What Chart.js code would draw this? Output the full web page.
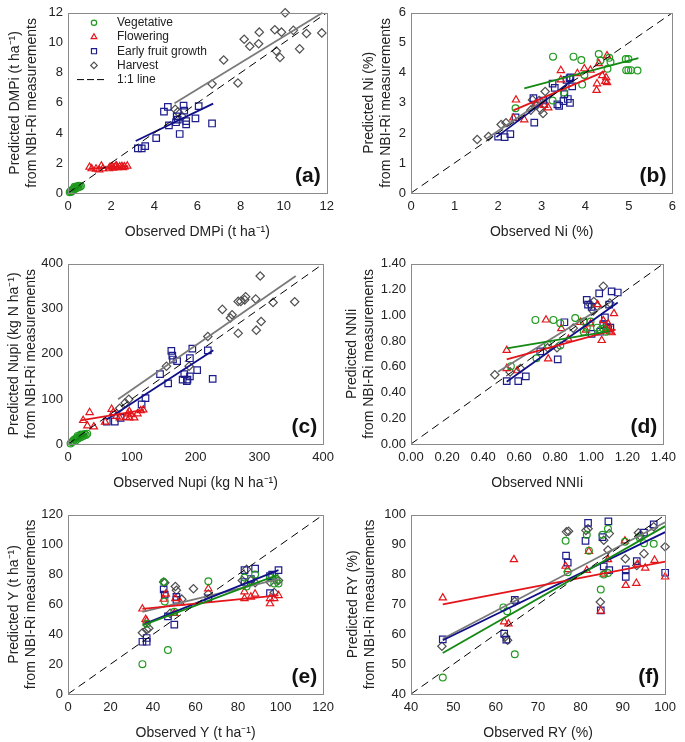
<!DOCTYPE html>
<html>
<head>
<meta charset="utf-8">
<script src="https://cdn.jsdelivr.net/npm/chart.js@4.4.1/dist/chart.umd.min.js"></script>
<style>
  body { margin: 0; background: #fff; width: 685px; height: 742px; overflow: hidden; position: relative; }
  canvas { position: absolute; }
</style>
</head>
<body>
<canvas id="pa" width="340" height="243" style="left:0px;top:0px"></canvas>
<canvas id="pb" width="339" height="243" style="left:343px;top:0px"></canvas>
<canvas id="pc" width="340" height="243" style="left:0px;top:251px"></canvas>
<canvas id="pd" width="339" height="243" style="left:343px;top:251px"></canvas>
<canvas id="pe" width="340" height="242" style="left:0px;top:502px"></canvas>
<canvas id="pf" width="339" height="242" style="left:343px;top:502px"></canvas>
<script>
// growth stages (legend order)
var stages = ['Vegetative', 'Flowering', 'Early fruit growth', 'Harvest'];

// axis ranges, one entry per panel (a..f)
var axMin = [0, 0, 0, 0, 0, 40];
var axMax = [12, 6, 400, 1.4, 120, 100];
var axStep = [2, 1, 100, 0.2, 20, 10];
var tickDecimals = [0, 0, 0, 2, 0, 0];
var panelLabels = ['(a)', '(b)', '(c)', '(d)', '(e)', '(f)'];
var xTitles = ['Observed DMPi (t ha\u207B\u00B9)', 'Observed Ni (%)', 'Observed Nupi (kg N ha\u207B\u00B9)',
               'Observed NNIi', 'Observed Y (t ha\u207B\u00B9)', 'Observed RY (%)'];
var yTitles = ['Predicted DMPi (t ha\u207B\u00B9)', 'Predicted Ni (%)', 'Predicted Nupi (kg N ha\u207B\u00B9)',
               'Predicted NNIi', 'Predicted Y (t ha\u207B\u00B9)', 'Predicted RY (%)'];

// (a) DMPi  [observed, predicted]
var vegA = [[0.08,0.05],[0.12,0.12],[0.16,0.08],[0.2,0.22],[0.24,0.18],[0.28,0.3],[0.32,0.26],[0.35,0.38],[0.4,0.33],[0.43,0.45],[0.47,0.38],[0.5,0.48],[0.55,0.42],[0.6,0.46],[0.3,0.42]];
var floA = [[1.0,1.72],[1.1,1.62],[1.3,1.6],[1.45,1.55],[1.55,1.8],[1.62,1.62],[1.9,1.62],[1.95,1.72],[2.05,1.76],[2.1,1.66],[2.2,1.77],[2.3,1.7],[2.4,1.75],[2.5,1.77],[2.55,1.7],[2.62,1.75],[2.75,1.8],[2.25,1.8]];
var efgA = [[3.24,2.97],[3.42,2.97],[3.58,3.12],[4.09,3.65],[4.45,5.42],[4.63,5.73],[4.68,4.5],[5.01,4.71],[5.09,4.88],[5.18,3.93],[5.36,5.82],[5.39,5.48],[5.48,4.78],[5.48,4.57],[5.91,4.97],[6.06,5.78],[6.68,4.63],[5.04,5.1]];
var harA = [[4.97,5.57],[5.09,5.4],[5.29,5.1],[6.68,7.26],[7.22,8.86],[7.88,7.33],[8.17,10.24],[8.43,9.77],[8.84,9.94],[8.87,10.71],[9.59,10.87],[9.66,9.45],[9.83,9.03],[9.9,10.71],[10.07,12.0],[10.45,10.83],[10.74,9.6],[11.06,10.62],[11.77,10.66]];
// fitted lines per stage: [x1, y1, x2, y2]
var fitA = [[0.1,0.08,0.6,0.48],[1.0,1.62,2.8,1.78],[3.14,3.46,6.73,5.95],[4.94,5.97,11.8,12.0]];

// (b) Ni
var vegB = [[2.4,2.82],[3.25,3.08],[3.51,3.35],[3.26,4.54],[3.73,4.54],[3.91,4.43],[3.93,3.61],[3.98,3.93],[4.31,4.63],[4.35,4.41],[4.55,4.5],[4.58,4.36],[4.51,4.14],[4.93,4.46],[4.99,4.46],[4.94,4.09],[4.99,4.09],[5.05,4.09],[5.2,4.08]];
var floB = [[2.41,3.1],[2.35,2.5],[2.6,2.44],[3.15,2.84],[3.44,4.08],[3.44,3.77],[3.82,3.98],[3.98,4.14],[4.12,4.09],[4.27,3.64],[4.26,3.42],[4.31,4.31],[4.39,3.91],[4.46,3.72],[4.48,3.84],[4.5,3.68],[4.5,4.57],[2.89,2.97],[3.06,2.92]];
var efgB = [[2.0,1.88],[2.15,1.86],[2.28,1.96],[2.4,2.52],[2.83,2.34],[2.81,3.16],[3.25,3.64],[3.3,3.5],[3.36,2.95],[3.4,2.9],[3.5,3.06],[3.52,3.29],[3.57,3.77],[3.64,3.82],[3.6,3.13],[3.65,3.0],[3.7,3.55],[3.66,3.85],[3.04,3.08]];
var harB = [[1.52,1.78],[1.78,1.88],[2.07,2.28],[2.18,2.34],[2.79,3.1],[2.87,2.92],[2.94,3.08],[3.06,2.97],[3.03,2.65],[3.08,3.38],[2.75,2.76],[2.98,2.78]];
var fitB = [[2.6,3.48,5.22,4.49],[2.35,2.75,4.45,4.05],[1.96,1.86,3.74,3.8],[1.75,1.82,3.1,3.15]];

// (c) Nupi
var vegC = [[4,1],[6,4],[8,7],[10,10],[12,8],[14,14],[16,12],[18,17],[20,15],[22,20],[24,18],[26,22],[28,20],[30,23],[15,18],[20,21]];
var floC = [[23.8,52.4],[33.9,70],[30.4,40.4],[40.5,38.2],[58.2,48.8],[68.4,77.2],[70.9,70],[76,61.6],[81,58],[91.1,59.5],[93.7,67.3],[96.2,72.2],[98.7,65.1],[103.8,58],[108.9,67.3],[113.9,74.3],[118,75.8],[96.2,58]];
var efgC = [[60.8,49.6],[73.4,49.6],[82.5,58],[115.4,87.8],[121.5,102],[144.3,155],[157,134.5],[162,206.7],[163.5,196],[164.6,187.6],[171.1,184],[179.7,143],[182.3,155],[186.3,139.5],[187.3,143],[191.1,190.4],[191.1,150],[194.9,211.7],[202.5,164.2],[219.2,208],[226.8,144.4]];
var harC = [[81,79.3],[89.6,91.3],[95.2,99.1],[154.4,172.7],[189.9,172.7],[219.2,238.6],[242,298.8],[254.7,279.6],[257.2,286.7],[266.8,245.7],[266.8,316.5],[270.9,316.5],[277,320],[278.5,327],[295.2,252.7],[294.2,322],[301.3,373],[302.8,271.9],[321.5,314.3],[355.4,315.8]];
var fitC = [[3,1,30,24],[20.3,52.4,119,75.8],[60.8,54.5,227.8,208.1],[78.5,99.1,357,373]];

// (d) NNIi
var vegD = [[0.554,0.605],[0.69,0.964],[0.79,0.964],[0.828,0.939],[0.828,0.766],[0.696,0.666],[0.911,0.979],[0.958,0.951],[0.958,0.872],[0.975,0.904],[1.032,0.904],[1.05,0.885],[1.067,0.897],[1.081,0.872],[0.996,0.951],[0.76,0.77]];
var floD = [[0.531,0.728],[0.531,0.587],[0.589,0.57],[0.749,0.964],[0.761,0.662],[0.834,0.897],[0.873,0.815],[0.94,0.946],[0.996,0.934],[1.035,1.083],[1.058,0.805],[1.067,0.959],[1.085,0.897],[1.103,0.872],[1.113,0.865],[1.126,1.013],[1.094,0.934],[0.97,0.885]];
var efgD = [[0.531,0.488],[0.595,0.488],[0.637,0.525],[0.717,0.719],[0.814,0.657],[0.851,0.946],[0.975,1.12],[0.982,1.083],[1.002,1.065],[1.002,0.855],[1.044,1.17],[1.05,0.872],[1.076,0.983],[1.085,0.909],[1.094,0.897],[1.099,1.083],[1.113,1.186],[1.147,1.177],[1.106,0.904],[1.067,0.929]];
var harD = [[0.465,0.538],[0.607,0.587],[0.758,0.748],[0.81,0.748],[0.993,1.088],[1.014,1.107],[1.067,1.226],[1.011,1.033],[1.032,1.07],[1.103,1.095],[0.55,0.56],[0.9,0.9]];
var fitD = [[0.531,0.743,1.103,0.877],[0.531,0.657,1.135,0.889],[0.531,0.483,1.147,1.1],[0.483,0.562,1.112,1.107]];

// (e) Y
var vegE = [[35,20],[47,29.5],[45,75],[45.5,62],[50,55],[66,75.5],[83,78],[84,72],[88,80],[95,78],[97,74],[99,74],[37,47],[98,76]];
var floE = [[35,57],[36.5,50],[37,49],[46,67],[45,63.5],[50.5,64],[53,61],[66,70.5],[83,68.5],[83,64],[86,65],[88,67],[95,60.5],[95,64],[97,64],[99,66],[50,54]];
var efgE = [[35,35],[37,35],[37,37.5],[45,70],[45.5,66.5],[47,52],[50,46.5],[51,65],[51,63],[66,64],[83,83],[83,75],[86,77],[88,84],[95,79],[95,67.5],[96,80],[99,83]];
var harE = [[35,41],[37,43],[38,44],[45,75],[45.5,74.5],[48,54],[50.5,72],[51,69.5],[53.5,63.5],[59,70.5],[66,67],[84,83.5],[86,76],[88,74.5],[95,75],[97,68],[99,76],[82,76]];
var fitE = [[35,46,99,80],[35,57,99,66],[36,47,99,83],[35,55,99,77]];

// (f) RY
var vegF = [[47.5,45.5],[64.5,53.3],[62.7,67.7],[61.8,69],[76.5,91.3],[77,80.8],[81.5,93.3],[82,88],[84.8,75],[85.2,93.3],[86.5,95.3],[86.5,80.5],[90.5,91],[94,92.3],[95,90.5],[97.3,90.3],[85.5,80]];
var floF = [[47.5,72.2],[62,64.2],[63,63.5],[64.3,85],[76.5,82.8],[77,81.7],[81.5,81.4],[82,87.8],[85.5,80.2],[86.5,85],[90.5,91.3],[90.7,76.4],[93.2,77.1],[93.5,83.5],[95.3,82.2],[97.5,84.8],[100,79.2],[84.8,67.8]];
var efgF = [[47.5,58.3],[62,60.2],[62.5,58.2],[64.5,71.5],[76.6,86.3],[77,84],[81.2,91.3],[81.8,97.3],[85.2,92.5],[85.5,82.7],[86.6,97.8],[86.8,81.5],[90.7,81.7],[90.7,79.2],[93.3,84.5],[95,94],[97.3,96.8],[100,80.6],[84.8,68]];
var harF = [[47.3,56],[62.3,59.2],[62.8,58],[64.5,71],[76.7,94.3],[77.2,94.5],[81.3,94.8],[81.8,95.3],[84.7,70.8],[85.5,91.5],[86.5,88.2],[86.8,93.7],[90.6,85.3],[93.3,83],[93.7,94],[95,87],[97.3,96],[100,89.3],[94,93]];
var fitF = [[47.5,53.7,100,96.2],[47.5,70,100,84.3],[47.5,58,100,94.2],[47.5,58.5,100,97.5]];

var markerColors = ['#1f9a1f', '#e3151b', '#1d1d8c', '#505050'];
var lineColors = ['#148914', '#e3151b', '#0f0f88', '#7a7a7a'];
var markerStyles = ['circle', 'triangle', 'rect', 'rectRot'];
var markerRadius = [3.4, 4.2, 4.6, 4.2];
var FONT = '"Liberation Sans", Arial, sans-serif';

var toXY = function (pairs) {
    return pairs.map(function (p) { return {x: p[0], y: p[1]}; });
};

// frame box, panel letter, and (panel a only) the legend
var panelDecor = {
    id: 'panelDecor',
    afterDatasetsDraw: function (chart, args, opts) {
        var ctx = chart.ctx, a = chart.chartArea;
        ctx.save();
        ctx.strokeStyle = '#8a8a8a';
        ctx.lineWidth = 1;
        ctx.strokeRect(Math.round(a.left) + 0.5, Math.round(a.top) + 0.5,
                       Math.round(a.right - a.left), Math.round(a.bottom - a.top));
        ctx.font = 'bold 21px ' + FONT;
        ctx.fillStyle = '#111';
        ctx.textAlign = 'right';
        ctx.textBaseline = 'middle';
        ctx.fillText(opts.label, a.right - 6, a.bottom - 17);

        if (opts.legend) {
            ctx.font = '12px ' + FONT;
            ctx.textAlign = 'left';
            ctx.fillStyle = '#222';
            for (var i = 0; i < 5; i++) {
                var y = a.top + 10 + i * 14.2;
                if (i < 4) {
                    ctx.strokeStyle = markerColors[i];
                    ctx.fillStyle = 'rgba(0,0,0,0)';
                    ctx.lineWidth = 1.2;
                    Chart.helpers.drawPoint(ctx, {pointStyle: markerStyles[i], radius: markerRadius[i] * 0.78, rotation: 0, borderWidth: 1.2},
                                            a.left + 26, y);
                    ctx.fillStyle = '#222';
                    ctx.fillText(stages[i], a.left + 49, y);
                } else {
                    ctx.strokeStyle = '#000';
                    ctx.lineWidth = 1;
                    ctx.setLineDash([7, 3]);
                    ctx.beginPath();
                    ctx.moveTo(a.left + 9, y);
                    ctx.lineTo(a.left + 38, y);
                    ctx.stroke();
                    ctx.setLineDash([]);
                    ctx.fillStyle = '#222';
                    ctx.fillText('1:1 line', a.left + 49, y);
                }
            }
        }
        ctx.restore();
    }
};

var yTitlePad = [6.6, 17.6, 5.6, 0.6, 5.6, 1.6];

function makePanel(i, id, groups, fits) {
    var datasets = [];
    groups.forEach(function (g, k) {
        datasets.push({
            label: stages[k],
            data: toXY(g),
            pointStyle: markerStyles[k],
            pointRadius: markerRadius[k],
            pointBorderColor: markerColors[k],
            pointBackgroundColor: 'rgba(0,0,0,0)',
            pointBorderWidth: 1.2,
            showLine: false,
            clip: false,
            order: 2
        });
    });
    fits.forEach(function (f, k) {
        datasets.push({
            label: stages[k] + ' fit',
            data: [{x: f[0], y: f[1]}, {x: f[2], y: f[3]}],
            showLine: true,
            borderColor: lineColors[k],
            borderWidth: 1.8,
            pointRadius: 0,
            clip: false,
            order: 1
        });
    });
    datasets.push({
        label: '1:1 line',
        data: [{x: axMin[i], y: axMin[i]}, {x: axMax[i], y: axMax[i]}],
        showLine: true,
        borderColor: '#000',
        borderWidth: 1,
        borderDash: [8, 5],
        pointRadius: 0,
        order: 0
    });

    var fmt = function (v) { return Number(v).toFixed(tickDecimals[i]); };

    return new Chart(document.getElementById(id).getContext('2d'), {
        type: 'scatter',
        data: {datasets: datasets},
        plugins: [panelDecor],
        options: {
            responsive: false,
            animation: false,
            layout: {padding: {top: 5, right: 8, left: 0, bottom: 0}},
            plugins: {
                legend: {display: false},
                tooltip: {enabled: false},
                panelDecor: {label: panelLabels[i], legend: i === 0}
            },
            scales: {
                x: {
                    type: 'linear',
                    min: axMin[i], max: axMax[i],
                    grid: {display: false, drawTicks: false},
                    border: {display: false},
                    ticks: {stepSize: axStep[i], autoSkip: false, maxRotation: 0, padding: 6,
                            color: '#222', font: {family: FONT, size: 13}, callback: fmt},
                    title: {display: true, text: xTitles[i], color: '#222',
                            font: {family: FONT, size: 14}, padding: {top: 0, bottom: 2.6}},
                    afterFit: function (s) { s.height = 50; }
                },
                y: {
                    type: 'linear',
                    min: axMin[i], max: axMax[i],
                    grid: {display: false, drawTicks: false},
                    border: {display: false},
                    ticks: {stepSize: axStep[i], autoSkip: false, padding: 5,
                            color: '#222', font: {family: FONT, size: 13}, callback: fmt},
                    title: {display: true, text: [yTitles[i], 'from NBI-Ri measurements'], color: '#222',
                            font: {family: FONT, size: 14}, padding: {top: yTitlePad[i], bottom: 0}},
                    afterFit: function (s) { s.width = 68; }
                }
            }
        }
    });
}

window.onload = function () {
    makePanel(0, 'pa', [vegA, floA, efgA, harA], fitA);
    makePanel(1, 'pb', [vegB, floB, efgB, harB], fitB);
    makePanel(2, 'pc', [vegC, floC, efgC, harC], fitC);
    makePanel(3, 'pd', [vegD, floD, efgD, harD], fitD);
    makePanel(4, 'pe', [vegE, floE, efgE, harE], fitE);
    makePanel(5, 'pf', [vegF, floF, efgF, harF], fitF);
};
</script>
</body>
</html>
